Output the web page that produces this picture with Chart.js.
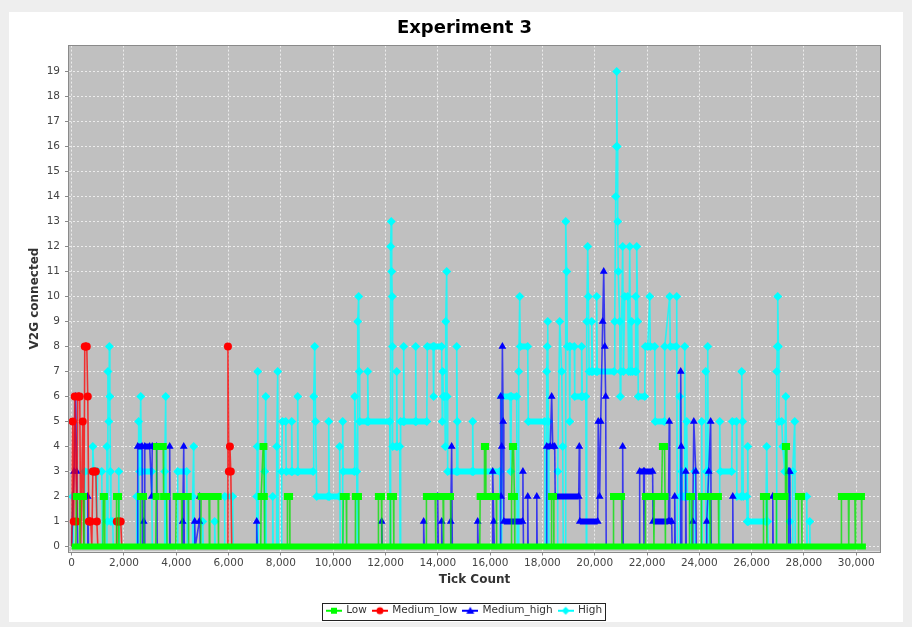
<!DOCTYPE html>
<html><head><meta charset="utf-8">
<script src="https://cdn.jsdelivr.net/npm/chart.js@4/dist/chart.umd.min.js"></script>
<style>
html,body{margin:0;padding:0;background:#eeeeee;overflow:hidden;width:912px;height:627px;}
#panel{position:absolute;left:9px;top:12px;width:894px;height:610px;background:#ffffff;}
#c{position:absolute;left:9px;top:12px;}
</style></head><body>
<div id="panel"></div>
<canvas id="c" width="911" height="610"></canvas>
<script>
const chartTitle = 'Experiment 3';
const xAxisTitle = 'Tick Count';
const yAxisTitle = 'V2G connected';
const seriesNames = ['Low', 'Medium_low', 'Medium_high', 'High'];
const seriesColors = ['#00ff00', '#ff0000', '#0000ff', '#00ffff'];
const seriesLineColors = ['rgba(0,230,0,0.75)', 'rgba(255,0,0,0.75)', 'rgba(0,0,255,0.7)', 'rgba(0,255,255,0.8)'];
const xTickValues = [0,2000,4000,6000,8000,10000,12000,14000,16000,18000,20000,22000,24000,26000,28000,30000];
const yTickValues = [0,1,2,3,4,5,6,7,8,9,10,11,12,13,14,15,16,17,18,19];

// [tick, connected]
const lowPoints = [
[0,0],[160,0],[180,2],[300,2],[315,0],[330,2],[450,2],[465,0],
[1195,0],[1210,2],[1250,2],[1265,0],
[1700,0],[1715,2],[1790,2],[1805,0],
[2615,0],[2630,2],[2745,2],[2760,0],
[3215,0],[3230,2],[3245,4],[3500,4],[3515,2],[3630,2],[3645,0],
[3980,0],[3995,2],[4200,2],[4215,0],[4230,2],[4455,2],[4470,0],
[4935,0],[4950,2],[5250,2],[5265,0],[5280,2],[5600,2],[5615,0],
[7230,0],[7245,2],[7320,4],[7350,4],[7365,2],[7380,0],
[8235,0],[8250,2],[8330,2],[8345,0],
[10370,0],[10385,2],[10500,2],[10515,0],
[10835,0],[10850,2],[10965,2],[10980,0],
[11715,0],[11730,2],[11845,2],[11860,0],
[12175,0],[12190,2],[12305,2],[12320,0],
[13550,0],[13565,2],[13900,2],[13915,0],[13930,2],[14200,2],[14215,0],[14230,2],[14485,2],[14500,0],
[15605,0],[15620,2],[15770,2],[15785,4],[15825,4],[15840,2],[16235,2],[16250,0],
[16805,0],[16820,2],[16855,4],[16895,4],[16930,2],[16945,0],
[18335,0],[18350,2],[18425,2],[18440,0],
[20705,0],[20720,2],[21025,2],[21040,0],
[21925,0],[21940,2],[22250,2],[22265,0],[22280,2],[22560,2],[22590,4],[22670,4],[22690,2],[22705,0],
[23610,0],[23625,2],[23700,2],[23715,0],
[24065,0],[24080,2],[24400,2],[24415,0],[24430,2],[24730,2],[24745,0],
[26440,0],[26455,2],[26570,2],[26585,0],
[26935,0],[26950,2],[27280,2],[27295,4],[27335,4],[27350,0],
[27780,0],[27795,2],[27910,2],[27925,0],
[29420,0],[29435,2],[29700,2],[29715,0],[29730,2],[29950,2],[29965,0],[29980,2],[30200,2],[30215,0],[30370,0]
];

const mediumLowPoints = [
[0,0],[38,5],[77,1],[115,6],[192,1],[231,6],[308,6],[346,0],[423,5],[462,0],
[500,8],[577,8],[615,6],[654,1],[731,1],[769,0],[808,3],[923,3],[962,1],[1000,0],
[1710,0],[1725,1],[1875,1],[1915,0],
[5960,0],[5975,8],[6010,3],[6050,4],[6085,3],[6120,0]
];

const mediumHighPoints = [
[0,0],[90,3],[150,6],[190,3],[230,0],[600,0],[615,2],[640,0],
[2505,0],[2525,4],[2690,4],[2705,0],[2755,1],[2775,0],[2795,4],[2985,4],[3060,2],[3080,4],[3250,4],[3270,0],
[3730,0],[3748,4],[3765,0],
[4230,0],[4245,1],[4285,4],[4305,0],
[4690,0],[4705,1],[4725,0],[4880,1],[4895,2],[4915,0],
[7060,0],[7075,1],[7095,0],
[11840,0],[11855,1],[11875,0],
[13445,0],[13460,1],[13480,0],
[13980,0],[13997,2],[14020,0],[14135,0],[14150,1],[14170,0],
[14480,0],[14495,1],[14530,4],[14555,0],
[15510,0],[15525,1],[15545,0],
[16085,0],[16100,3],[16140,1],[16160,0],
[16390,0],[16405,6],[16420,2],[16445,4],[16470,8],[16500,5],[16525,1],[17240,1],[17255,3],[17275,0],
[17425,0],[17440,2],[17455,0],
[17770,0],[17785,2],[17800,0],
[18150,0],[18165,4],[18300,4],[18355,6],[18395,4],[18470,4],[18490,2],[19390,2],[19410,4],[19430,1],[20116,1],
[20135,5],[20190,2],[20230,5],[20305,9],[20345,11],[20385,8],[20420,6],[20440,0],
[21055,0],[21070,4],[21090,0],
[21705,0],[21720,3],[21870,3],[21885,0],[21900,3],[22215,3],[22230,1],[22820,1],[22850,5],[22870,1],[22945,1],[22960,0],
[23045,0],[23060,2],[23080,0],
[23275,0],[23290,7],[23310,4],[23330,0],
[23465,0],[23480,3],[23500,0],[23735,0],[23750,1],[23790,5],[23865,3],[23885,0],
[24270,0],[24285,1],[24360,3],[24435,5],[24455,0],
[25265,0],[25280,2],[25295,0],
[26795,0],[26810,2],[26825,0],
[27405,0],[27420,3],[27460,3],[27480,0]
];

const highPoints = [
[0,0],[38,2],[60,0],
[490,0],[500,3],[790,3],[808,4],[846,3],[945,3],[962,1],[990,3],[1150,3],[1170,0],
[1330,0],[1346,4],[1365,1],[1385,7],[1423,5],[1440,8],[1461,6],[1480,3],[1500,1],[1570,1],[1590,0],
[1785,0],[1800,3],[1820,0],
[2470,0],[2486,2],[2505,0],
[2545,0],[2560,5],[2600,3],[2640,6],[2665,3],[3060,3],[3080,0],
[3540,0],[3557,3],[3595,6],[3620,0],
[4040,0],[4054,3],[4400,3],[4420,0],
[4615,0],[4627,2],[4665,4],[4685,0],
[4995,0],[5009,1],[5030,0],[5455,0],[5469,1],[5490,0],
[5835,0],[5851,2],[6155,2],[6175,0],
[7060,0],[7074,2],[7094,4],[7113,7],[7135,0],
[7365,0],[7381,3],[7420,6],[7440,0],
[7670,0],[7687,2],[7705,0],
[7825,0],[7840,4],[7878,7],[7900,0],
[8015,0],[8031,3],[8055,5],[8185,5],[8205,3],[8400,3],[8415,5],[8435,3],[8625,3],[8643,6],[8660,3],[9230,3],
[9255,6],[9293,8],[9327,5],[9369,2],[9804,2],[9829,5],[9854,2],[10231,2],[10249,4],[10271,0],
[10341,0],[10364,5],[10380,3],[10808,3],[10823,6],[10900,3],[10920,0],
[10937,9],[10975,10],[10997,7],[11014,5],[11295,5],[11320,7],[11345,5],[12161,5],[12180,0],
[12190,0],[12199,12],[12220,13],[12238,11],[12258,10],[12268,8],[12275,4],[12410,4],[12429,7],[12449,4],[12543,4],[12558,0],
[12578,5],[12680,5],[12696,8],[12712,5],[13140,5],[13155,8],[13170,5],[13580,5],[13600,8],[13820,8],[13841,6],[13860,8],[14150,8],
[14170,5],[14188,7],[14210,6],[14268,6],[14285,4],[14303,9],[14341,11],[14358,6],[14378,3],[14706,3],[14724,8],[14745,5],[14765,3],
[15312,3],[15335,5],[15357,3],[16368,3],[16386,0],
[16426,0],[16443,6],[16765,6],[16789,3],[16814,6],[17017,6],[17037,0],
[17077,0],[17094,7],[17133,10],[17152,8],[17438,8],[17460,5],[18088,5],[18106,0],
[18151,0],[18165,7],[18186,8],[18204,9],[18226,5],[18245,0],
[18569,0],[18586,3],[18662,9],[18739,7],[18777,4],[18797,0],
[18872,0],[18892,13],[18930,11],[18952,8],[19031,8],[19045,5],[19061,8],[19220,8],[19236,6],[19490,6],[19503,8],[19528,6],[19660,6],[19680,0],
[19695,9],[19733,12],[19757,10],[19787,7],[19870,7],[19886,9],[19924,7],[20054,7],[20076,10],[20099,7],[20741,7],
[20766,9],[20804,14],[20831,16],[20842,19],[20860,16],[20880,13],[20900,11],[20957,9],[20980,6],[21000,7],
[21071,12],[21098,7],[21147,10],[21263,10],[21298,7],[21340,12],[21368,7],[21415,9],[21435,7],[21550,7],[21568,10],[21590,7],
[21607,12],[21645,9],[21666,6],[21912,6],[21934,8],[22028,8],[22105,10],[22124,8],[22296,8],[22313,5],[22660,5],
[22678,8],[22869,10],[22889,8],[23118,8],[23137,10],[23158,0],
[23237,0],[23252,6],[23267,2],[23329,3],[23347,2],[23425,2],[23443,8],[23466,2],[23520,5],[23545,2],[23634,2],[23655,0],
[23808,0],[23825,3],[23843,0],
[24077,0],[24093,5],[24112,0],
[24231,0],[24246,7],[24265,3],[24305,3],[24323,8],[24340,3],[24360,0],
[24763,0],[24781,5],[24808,3],[25240,3],[25260,5],[25420,5],[25435,2],[25605,2],[25622,7],[25660,5],[25680,2],[25815,2],
[25833,1],[25852,4],[25870,1],[26545,1],[26578,4],[26616,1],[26636,0],
[26945,0],[26960,7],[26980,8],[26999,10],[27025,8],[27045,5],[27152,5],[27190,4],[27266,3],[27305,6],[27343,3],[27440,3],[27458,1],[27483,0],
[27557,0],[27573,3],[27649,5],[27671,0],
[28089,0],[28108,2],[28129,0],[28208,0],[28223,1],[28238,0]
];

const toXY = pts => pts.map(p => ({x: p[0], y: p[1]}));
const FONT = 'DejaVu Sans';
const THIN = 1.6;

function isBar(c) { return c.p0.parsed.y === c.p1.parsed.y && c.p0.parsed.y !== 0; }

function lineDataset(label, pts, color, lineColor, style, radius, barWidth) {
  return {
    label: label,
    data: toXY(pts),
    borderColor: lineColor,
    backgroundColor: color,
    pointBackgroundColor: color,
    pointBorderWidth: 0,
    pointStyle: style,
    pointRadius: c => (c.raw && c.raw.y !== 0) ? radius : 0,
    pointHoverRadius: c => (c.raw && c.raw.y !== 0) ? radius : 0,
    borderWidth: THIN,
    tension: 0,
    segment: {
      borderWidth: c => isBar(c) ? barWidth : THIN,
      borderColor: c => isBar(c) ? color : lineColor
    }
  };
}

function legendIcon(color, style) {
  const c = document.createElement('canvas');
  c.width = 16; c.height = 10;
  const g = c.getContext('2d');
  g.strokeStyle = color; g.lineWidth = 2;
  g.beginPath(); g.moveTo(0, 5); g.lineTo(16, 5); g.stroke();
  g.fillStyle = color; g.beginPath();
  if (style === 'rect') g.rect(5, 2, 6, 6);
  else if (style === 'circle') g.arc(8, 5, 3.5, 0, Math.PI * 2);
  else if (style === 'triangle') { g.moveTo(8, 1); g.lineTo(12, 8); g.lineTo(4, 8); g.closePath(); }
  else { g.moveTo(8, 1); g.lineTo(12, 5); g.lineTo(8, 9); g.lineTo(4, 5); g.closePath(); }
  g.fill();
  return c;
}
const seriesStyles = ['rect', 'circle', 'triangle', 'rectRot'];
const legendIcons = seriesStyles.map((s, i) => legendIcon(seriesColors[i], s));

const zeroBand = {
  label: seriesNames[0], isBand: true,
  data: [{x: lowPoints[0][0], y: 0}, {x: lowPoints[lowPoints.length - 1][0], y: 0}],
  borderColor: seriesColors[0], borderWidth: 6, pointRadius: 0, pointHoverRadius: 0, borderCapStyle: 'butt'
};

const plotBg = {
  id: 'plotBg',
  beforeDraw(chart) {
    const {ctx, chartArea: a} = chart;
    ctx.save(); ctx.fillStyle = '#c0c0c0';
    ctx.fillRect(a.left, a.top, a.right - a.left, a.bottom - a.top);
    ctx.restore();
  },
  afterDraw(chart) {
    const {ctx, chartArea: a} = chart;
    ctx.save(); ctx.strokeStyle = '#8a8a8a'; ctx.lineWidth = 1;
    ctx.strokeRect(Math.round(a.left) - 0.5, Math.round(a.top) - 0.5, Math.round(a.right - a.left) + 1, Math.round(a.bottom - a.top) + 1);
    const lg = chart.legend;
    if (lg && lg.legendHitBoxes && lg.legendHitBoxes.length) {
      const hb = lg.legendHitBoxes;
      const l = Math.min(...hb.map(h => h.left)), r = Math.max(...hb.map(h => h.left + h.width));
      const t = Math.min(...hb.map(h => h.top)), b = Math.max(...hb.map(h => h.top + h.height));
      ctx.strokeStyle = '#222'; ctx.lineWidth = 1;
      ctx.strokeRect(Math.round(l - 5) + 0.5, Math.round(t - 3) + 0.5, Math.round(r - l + 8), Math.round(b - t + 6));
    }
    ctx.restore();
  }
};

new Chart(document.getElementById('c'), {
  type: 'line',
  data: {
    datasets: [
      zeroBand,
      lineDataset(seriesNames[0], lowPoints, seriesColors[0], seriesLineColors[0], 'rect', 5, 7),
      lineDataset(seriesNames[1], mediumLowPoints, seriesColors[1], seriesLineColors[1], 'circle', 4, 8),
      lineDataset(seriesNames[2], mediumHighPoints, seriesColors[2], seriesLineColors[2], 'triangle', 4.5, 6),
      lineDataset(seriesNames[3], highPoints, seriesColors[3], seriesLineColors[3], 'rectRot', 4.5, 6)
    ]
  },
  options: {
    responsive: false, animation: false, devicePixelRatio: 1,
    events: [],
    layout: {padding: {left: 0, right: 0, top: 0, bottom: -4}},
    scales: {
      x: {
        type: 'linear', min: -103, max: 30910,
        afterBuildTicks: s => { s.ticks = xTickValues.map(v => ({value: v})); },
        afterFit: s => { s.height = 48; s.paddingRight = 40; },
        ticks: {font: {family: FONT, size: 10.5}, color: '#444', padding: 1, maxRotation: 0, autoSkip: false,
                callback: v => Number(v).toLocaleString('en-US')},
        grid: {color: 'rgba(255,255,255,0.7)', lineWidth: 1, tickColor: '#888', tickLength: 4},
        border: {display: false, dash: [2, 2]},
        title: {display: true, text: xAxisTitle, font: {family: FONT, size: 12, weight: 'bold'}, color: '#333', padding: {top: 0, bottom: 12}}
      },
      y: {
        type: 'linear', min: -0.2, max: 20.04,
        afterBuildTicks: s => { s.ticks = yTickValues.map(v => ({value: v})); },
        afterFit: s => { s.width = 60; },
        ticks: {font: {family: FONT, size: 10.5}, color: '#444', padding: 5, autoSkip: false},
        grid: {color: 'rgba(255,255,255,0.7)', lineWidth: 1, tickColor: '#888', tickLength: 4},
        border: {display: false, dash: [2, 2]},
        title: {display: true, text: yAxisTitle, font: {family: FONT, size: 12, weight: 'bold'}, color: '#333', padding: {top: 19, bottom: 0}}
      }
    },
    plugins: {
      title: {display: true, text: chartTitle, font: {family: FONT, size: 18, weight: 'bold'}, color: '#000', padding: {top: 6, bottom: 6}},
      legend: {
        position: 'bottom',
        labels: {
          usePointStyle: true, pointStyleWidth: 14, boxHeight: 10, padding: 6,
          font: {family: FONT, size: 10.5}, color: '#333',
          generateLabels: chart => seriesNames.map((n, i) => ({
            text: n, pointStyle: legendIcons[i], datasetIndex: i + 1, hidden: false,
            fillStyle: seriesColors[i], strokeStyle: seriesColors[i], lineWidth: 0, fontColor: '#333'
          }))
        }
      },
      tooltip: {enabled: false}
    }
  },
  plugins: [plotBg]
});
</script>
</body></html>
